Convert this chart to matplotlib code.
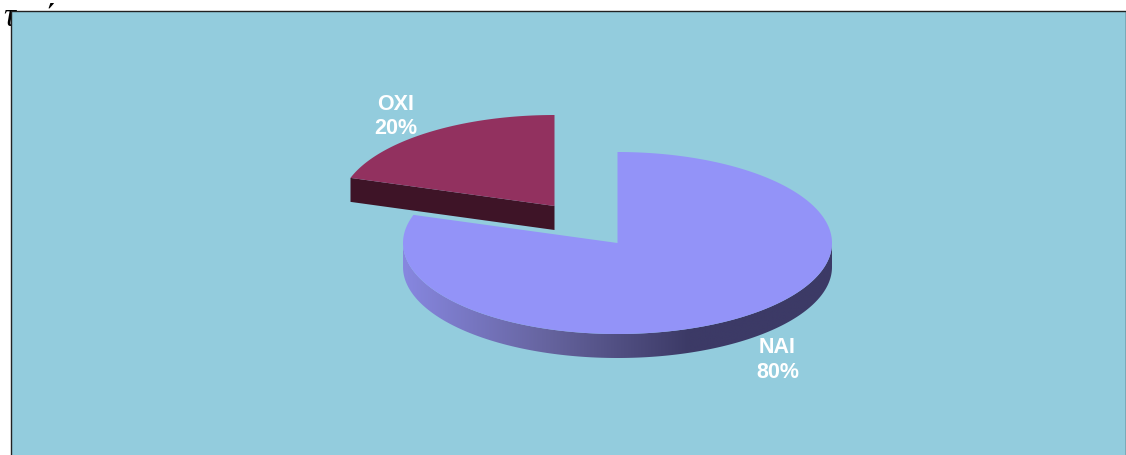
"""Exploded 3D-look pie chart, NAI / OXI."""
import numpy as np
import matplotlib
matplotlib.use('Agg')
import matplotlib.pyplot as plt
from matplotlib.colors import LinearSegmentedColormap
from matplotlib.patches import Polygon, Rectangle

labels = ['ΝΑΙ', 'ΟΧΙ']
values = [80, 20]
top_colors = ['#9393f8', '#92315f']

W, H = 1126, 455
CX, CY = 617.5, 243    # pie centre in pixels
RX, RY = 214.5, 91     # ellipse radii
DEPTH = 24             # wall height
EXPLODE = (-63, -37)   # offset of the pulled-out slice


def rim(a0, a1, cx, cy, n=200):
    """Points on the ellipse, angle clockwise from 12 o'clock in degrees"""
    a = np.radians(np.linspace(a0, a1, n))
    return np.column_stack([cx + RX * np.sin(a), cy - RY * np.cos(a)])


fig = plt.figure(figsize=(W / 100, H / 100), dpi=100, facecolor='white')
ax = fig.add_axes([0, 0, 1, 1])
ax.axis('off')

# title sits mostly behind the panel, only bits of it show
ax.text(3, 26, 'τ', fontsize=24, family='Liberation Serif', style='italic',
        color='black', va='baseline', zorder=1)
ax.text(40, 27, 'ά', fontsize=24, family='Liberation Serif', style='italic',
        color='black', va='baseline', zorder=1)

# panel
ax.add_patch(Rectangle((11, 11), W - 11, H, fc='#93ccdd', ec='#222222', lw=1, zorder=2))

# angles from the shares
share = np.array(values) / sum(values) * 360
end_nai = share[0]

# NAI wall with horizontal gradient
wall = np.vstack([rim(90, 270, CX, CY), rim(270, 90, CX, CY + DEPTH)])
clip = Polygon(wall, closed=True, transform=ax.transData, fc='none', ec='none')
ax.add_patch(clip)
cmap = LinearSegmentedColormap.from_list('wall', ['#3c3a66', '#3c3a66', '#66649f', '#8787e0'])
grad = np.linspace(1, 0, 256)[None, :]
im = ax.imshow(grad, cmap=cmap, extent=(CX - RX, CX + RX, CY + RY + DEPTH, CY - RY),
               aspect='auto', zorder=3)
im.set_clip_path(clip)

# NAI top
nai = np.vstack([rim(0, end_nai, CX, CY), [[CX, CY]]])
ax.add_patch(Polygon(nai, closed=True, fc=top_colors[0], ec='none', zorder=4))

# OXI, pulled out
ox, oy = CX + EXPLODE[0], CY + EXPLODE[1]
edge = rim(end_nai, 360, ox, oy)
outer = edge[0]
ax.add_patch(Polygon([outer, (ox, oy), (ox, oy + DEPTH), (outer[0], outer[1] + DEPTH)],
                     closed=True, fc='#3e1427', ec='none', zorder=5))
oxi = np.vstack([edge, [[ox, oy]]])
ax.add_patch(Polygon(oxi, closed=True, fc=top_colors[1], ec='none', zorder=6))

# labels
lab_pos = [(777.5, 360), (396, 116.5)]
for name, val, (x, y) in zip(labels, values, lab_pos):
    ax.text(x, y, f'{name}\n{val}%', color='white', fontsize=15.5, fontweight='bold',
            family='Liberation Sans', ha='center', va='center', linespacing=1.25, zorder=7)

ax.set_xlim(0, W)
ax.set_ylim(H, 0)
fig.savefig('out.png', dpi=100, facecolor='white')
